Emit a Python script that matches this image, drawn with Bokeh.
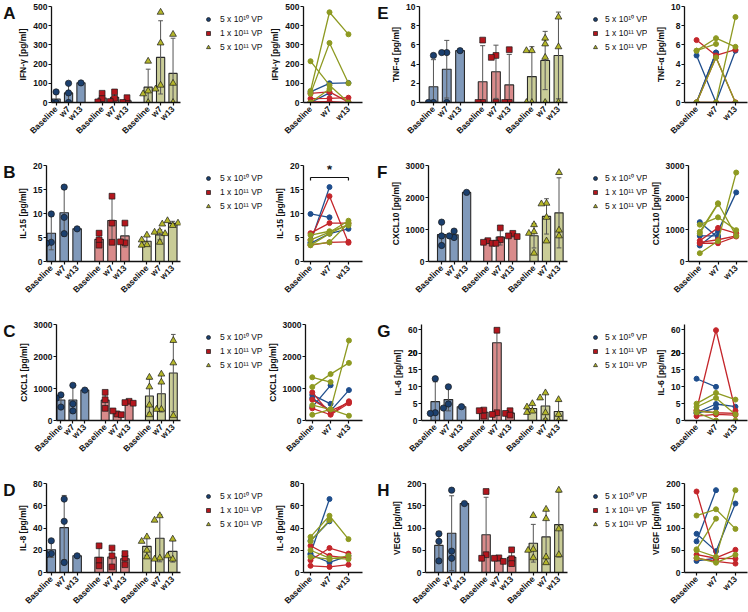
import math
import numpy as np
from bokeh.plotting import figure
from bokeh.layouts import row, column
from bokeh.models import FixedTicker, Legend, LegendItem, LinearAxis, Range1d
from bokeh.embed import file_html
from bokeh.resources import INLINE
from bokeh.core.properties import value

nan = float("nan")

TIMEPOINTS = ["Baseline", "w7", "w13"]
DOSES = ["5 x 10\u00b9\u2070 VP", "1 x 10\u00b9\u00b9 VP", "5 x 10\u00b9\u00b9 VP"]

# one row per animal: [Baseline, w7, w13]  (values in pg/ml)
IFNG_5E10 = [[55, 100, 102], [0, 50, nan], [0, 0, nan]]
IFNG_1E11 = [[48, 55, 2], [20, 22, 25], [3, 5, 0]]
IFNG_5E11 = [[215, 90, 0], [60, 470, 355], [45, 310, 100], [0, 70, nan]]

IL15_5E10 = [[9.9, 9.2, nan], [4.0, 15.5, nan], [3.8, 5.8, 6.8]]
IL15_1E11 = [[4.5, 13.6, 3.9], [5.9, 8.0, 8.0], [3.4, 4.0, 4.1]]
IL15_5E11 = [[5.5, 6.3, 7.5], [4.5, 6.1, 8.5], [3.5, 4.0, 8.0], [3.4, 5.8, 7.8]]

CXCL1_5E10 = [[800, 520, nan], [420, 1100, nan], [700, 300, 950]]
CXCL1_1E11 = [[880, 200, 600], [650, 300, 560], [380, 180, 540]]
CXCL1_5E11 = [[1350, 1200, nan], [1050, 1450, 1800], [480, 350, 2500], [180, 350, 150]]

IL8_5E10 = [[17, 66, nan], [28.5, 46, nan], [16, 9, 15]]
IL8_1E11 = [[24, 15, 13], [11, 22, 17], [6, 5, 7]]
IL8_5E11 = [[32, 51, 30], [28, 47, nan], [20, 13, 12], [14, 12, 15]]

TNFA_5E10 = [[4.9, 0, 5.4], [0, 5.2, nan], [0, 5.2, nan]]
TNFA_1E11 = [[6.5, 4.9, 5.5], [0, 4.7, 0], [0, 0, 0]]
TNFA_5E11 = [[5.4, 6.7, 5.8], [5.4, 6.1, nan], [0, 4.7, 0], [0, 0, 8.9]]

CXCL10_5E10 = [[1230, 750, nan], [800, 800, nan], [500, 950, 2160]]
CXCL10_1E11 = [[650, 1050, 880], [600, 680, 800], [570, 570, 780]]
CXCL10_5E11 = [[1150, 1380, 980], [930, 1820, 800], [880, 1800, nan], [260, 640, 2780]]

IL6_5E10 = [[12.4, 10.0, nan], [2.3, 4.9, 4.1], [2.1, 3.7, nan]]
IL6_1E11 = [[3.1, 58, 2.9], [2.9, 2.3, 2.1], [1.3, 1.8, 1.6]]
IL6_5E11 = [[5.0, 8.2, 6.2], [4.0, 6.7, 1.8], [2.8, 2.3, nan], [2.4, 0, 0]]

VEGF_5E10 = [[87, 48, 155], [70, 185, nan], [26, 32, nan]]
VEGF_1E11 = [[182, 33, 51], [40, 32, 31], [32, 25, 20]]
VEGF_5E11 = [[128, 142, 98], [52, 121, nan], [50, 35, 185], [33, 22, 40]]

# y axes
TICKS_IFNG = [0, 100, 200, 300, 400, 500]
TICKS_IL15 = [0, 5, 10, 15, 20]
TICKS_CXCL = [0, 1000, 2000, 3000]
TICKS_IL8 = [0, 20, 40, 60, 80]
TICKS_TNFA = [0, 2, 4, 6, 8, 10]
TICKS_IL6_LOW = [0, 5, 10, 15, 20]
TICKS_IL6_HIGH = [20, 60]
TICKS_VEGF = [0, 50, 100, 150, 200]
SIG_B_LEVEL = 17.5  # IL-15 bracket (Baseline vs w13)

FONT = "Liberation Sans"
BAR_FILL = ["#8099ba", "#d98b8b", "#c9cc97"]
PT_FILL = ["#1b3f6e", "#b3161d", "#b4b62a"]
LINE_COL = ["#1f4e8d", "#c4262b", "#8e9a22"]
MARKERS = ["circle", "square", "triangle"]
MSIZE = [6.3, 5.8, 6.8]
BAR_POS = [[0, 10, 20], [37, 47, 57], [74, 84, 94]]
TIME_X = [0, 1, 2]


def ident(v):
    return np.asarray(v, dtype=float)


# broken axis for IL-6: 0-20 linear, then 20-60 compressed above a gap
def il6_t(v):
    v = np.asarray(v, dtype=float)
    return np.where(v <= 20, v, 23 + (v - 20) * 0.1)


def style(p, ylabel, yticks, yover=None):
    p.grid.visible = False
    p.outline_line_color = None
    p.background_fill_color = "white"
    p.border_fill_color = "white"
    for ax in (p.xaxis[0], p.yaxis[0]):
        ax.axis_line_width = 1.3
        ax.axis_line_color = "#111111"
        ax.major_tick_line_color = "#111111"
        ax.major_tick_line_width = 1.2
        ax.major_tick_in = 0
        ax.major_tick_out = 3
        ax.minor_tick_line_color = None
        ax.major_label_text_font = FONT
        ax.major_label_text_font_size = "8.5px"
        ax.major_label_text_font_style = "bold"
        ax.major_label_text_color = "#111111"
        ax.major_label_standoff = 1
    p.xaxis.major_label_standoff = 2
    p.yaxis.ticker = FixedTicker(ticks=yticks)
    if yover:
        p.yaxis.major_label_overrides = yover
    p.yaxis.axis_label = ylabel
    p.yaxis.axis_label_text_font = FONT
    p.yaxis.axis_label_text_font_size = "8.5px"
    p.yaxis.axis_label_text_font_style = "bold"
    p.yaxis.axis_label_text_color = "#111111"
    p.yaxis.axis_label_standoff = 2
    p.xaxis.major_label_orientation = math.pi / 4


def swarm(vals, xc, sx, sy, diam):
    placed, out = [], []
    for v in vals:
        ypx = v * sy
        for k in [0, -1, 1, -2, 2, -3, 3]:
            xpx = k * diam * 0.8
            if all((xpx - a) ** 2 + (ypx - b) ** 2 >= (diam * 0.75) ** 2 for a, b in placed):
                break
        placed.append((xpx, ypx))
        out.append(xc + xpx / sx)
    return out


def add_letter(p, letter):
    # panel letter as a one-tick axis on the outer left of the bar chart
    p.extra_y_ranges = {"letter": Range1d(0, 1)}
    ax = LinearAxis(y_range_name="letter", ticker=FixedTicker(ticks=[1]),
                    major_label_overrides={1: letter})
    ax.axis_line_color = None
    ax.major_tick_line_color = None
    ax.minor_tick_line_color = None
    ax.major_tick_out = 0
    ax.major_tick_in = 0
    ax.major_label_standoff = 0
    ax.major_label_text_font = FONT
    ax.major_label_text_font_size = "17px"
    ax.major_label_text_font_style = "bold"
    ax.major_label_text_color = "#111111"
    p.add_layout(ax, "left")


def bar_chart(letter, ylabel, groups, yticks, ymax, col, h, bottom, tf=ident, yover=None):
    if col == 0:
        W, BL, BR, xr = 190, 41, 10, (-3.7, 100)
    else:
        W, BL, BR, xr = 206, 45, 13, (-10.5, 100.8)
    p = figure(width=W, height=h, x_range=xr, y_range=(0, ymax),
               min_border_left=BL, min_border_right=BR, min_border_top=6,
               min_border_bottom=bottom, output_backend="svg", toolbar_location=None)
    style(p, ylabel, yticks, yover)
    add_letter(p, letter)
    ticks = [x for g in BAR_POS for x in g]
    p.xaxis.ticker = FixedTicker(ticks=ticks)
    p.xaxis.major_label_overrides = {x: TIMEPOINTS[i % 3] for i, x in enumerate(ticks)}
    sx = (W - BL - BR) / (xr[1] - xr[0])
    sy = (h - 6 - bottom) / ymax
    for g, subj in enumerate(groups):
        arr = np.array(subj, dtype=float)
        bx, bt, ex, elo, ehi, px, py = [], [], [], [], [], [], []
        for t in range(3):
            vals = arr[:, t]
            vals = vals[~np.isnan(vals)]
            m = vals.mean()
            x = BAR_POS[g][t]
            bx.append(x)
            bt.append(float(tf(m)))
            if len(vals) > 1:
                sd = vals.std(ddof=1)
                ex.append(x)
                elo.append(float(tf(m - sd)))
                ehi.append(float(tf(m + sd)))
            tv = [float(v) for v in tf(vals)]
            px += swarm(tv, x, sx, sy, MSIZE[g])
            py += tv
        p.vbar(x=bx, top=bt, bottom=0, width=6.6, fill_color=BAR_FILL[g],
               line_color="#2a2a2a", line_width=1.1)
        ex = np.array(ex, dtype=float)
        cap = 1.9
        p.segment(x0=ex, y0=elo, x1=ex, y1=ehi, line_color="#555555", line_width=1)
        p.segment(x0=ex - cap, y0=ehi, x1=ex + cap, y1=ehi, line_color="#555555", line_width=1)
        p.segment(x0=ex - cap, y0=elo, x1=ex + cap, y1=elo, line_color="#555555", line_width=1)
        p.scatter(x=px, y=py, marker=MARKERS[g], size=MSIZE[g], fill_color=PT_FILL[g],
                  line_color="#1a1a1a", line_width=0.7)
    return p


def line_chart(ylabel, groups, yticks, ymax, col, h, bottom, tf=ident, yover=None, sig=None):
    if col == 0:
        W, BL, BR, xr = 110, 39, 12, (-0.37, 2.74)
    else:
        W, BL, BR, xr = 101, 37, 1, (-0.62, 2.62)
    p = figure(width=W, height=h, x_range=xr, y_range=(0, ymax),
               min_border_left=BL, min_border_right=BR, min_border_top=6,
               min_border_bottom=bottom, output_backend="svg", toolbar_location=None)
    style(p, ylabel, yticks, yover)
    p.xaxis.ticker = FixedTicker(ticks=TIME_X)
    p.xaxis.major_label_overrides = {x: TIMEPOINTS[i] for i, x in enumerate(TIME_X)}
    for g, subj in enumerate(groups):
        for s in subj:
            y = [float(v) for v in tf(s)]
            p.line(x=TIME_X, y=y, line_color=LINE_COL[g], line_width=1.3)
            p.scatter(x=TIME_X, y=y, marker="circle", size=5, fill_color=LINE_COL[g],
                      line_color=LINE_COL[g])
    if sig is not None:
        lo = sig - 0.6
        p.segment(x0=[TIME_X[0], TIME_X[0], TIME_X[2]], y0=[sig, sig, sig],
                  x1=[TIME_X[2], TIME_X[0], TIME_X[2]], y1=[sig, lo, lo],
                  line_color="#111111", line_width=1.2)
        p.text(x=[TIME_X[1]], y=[sig + 0.2], text=["*"], text_font=value(FONT),
               text_font_size="13px", text_font_style="bold", text_align="center",
               text_baseline="bottom", text_color="#111111")
    return p


def legend_fig(col, h):
    if col == 0:
        W, gw, so = 74, 22, 1
    else:
        W, gw, so = 67, 16, 2
    p = figure(width=W, height=h, x_range=(0, 1), y_range=(0, 1), min_border=0,
               x_axis_location=None, y_axis_location=None,
               output_backend="svg", toolbar_location=None)
    p.grid.visible = False
    p.outline_line_color = None
    items = []
    for g in range(3):
        r = p.scatter(x=[-5], y=[-5], marker=MARKERS[g], size=MSIZE[g], fill_color=PT_FILL[g],
                      line_color="#1a1a1a", line_width=0.7)
        items.append(LegendItem(label=DOSES[g], renderers=[r]))
    lg = Legend(items=items, location="top_left", margin=7, padding=0, spacing=4,
                glyph_width=gw, glyph_height=10, label_height=10, label_standoff=so,
                border_line_color=None, background_fill_alpha=0,
                label_text_font=FONT, label_text_font_size="8.5px", label_text_color="#111111")
    p.add_layout(lg)
    return p


PANELS = [
    ("A", "IFN-\u03b3 [pg/ml]", [IFNG_5E10, IFNG_1E11, IFNG_5E11], TICKS_IFNG, 500, ident, None, None),
    ("B", "IL-15 [pg/ml]", [IL15_5E10, IL15_1E11, IL15_5E11], TICKS_IL15, 20, ident, None, SIG_B_LEVEL),
    ("C", "CXCL1 [pg/ml]", [CXCL1_5E10, CXCL1_1E11, CXCL1_5E11], TICKS_CXCL, 3000, ident, None, None),
    ("D", "IL-8 [pg/ml]", [IL8_5E10, IL8_1E11, IL8_5E11], TICKS_IL8, 80, ident, None, None),
    ("E", "TNF-\u03b1 [pg/ml]", [TNFA_5E10, TNFA_1E11, TNFA_5E11], TICKS_TNFA, 10, ident, None, None),
    ("F", "CXCL10 [pg/ml]", [CXCL10_5E10, CXCL10_1E11, CXCL10_5E11], TICKS_CXCL, 3000, ident, None, None),
    ("G", "IL-6 [pg/ml]", [IL6_5E10, IL6_1E11, IL6_5E11], None, 28.5, il6_t, "il6", None),
    ("H", "VEGF [pg/ml]", [VEGF_5E10, VEGF_1E11, VEGF_5E11], TICKS_VEGF, 200, ident, None, None),
]

ROW_H = [159, 159, 159, 135]
ROW_B = [57, 57, 57, 33]

cols = [[], []]
for i, (letter, ylabel, groups, yticks, ymax, tf, special, sig) in enumerate(PANELS):
    col = i // 4
    r = i % 4
    h, b = ROW_H[r], ROW_B[r]
    yover = None
    if special == "il6":
        hi_pos = [int(round(float(v))) for v in il6_t(TICKS_IL6_HIGH)]
        yticks = TICKS_IL6_LOW + hi_pos
        yover = {pos: str(t) for pos, t in zip(hi_pos, TICKS_IL6_HIGH)}
    bp = bar_chart(letter, ylabel, groups, yticks, ymax, col, h, b, tf, yover)
    lf = legend_fig(col, h)
    lp = line_chart(ylabel, groups, yticks, ymax, col, h, b, tf, yover, sig)
    cols[col].append(row(bp, lf, lp))

layout = row(column(*cols[0]), column(*cols[1]))

with open("out.html", "w") as fh:
    fh.write(file_html(layout, INLINE))
